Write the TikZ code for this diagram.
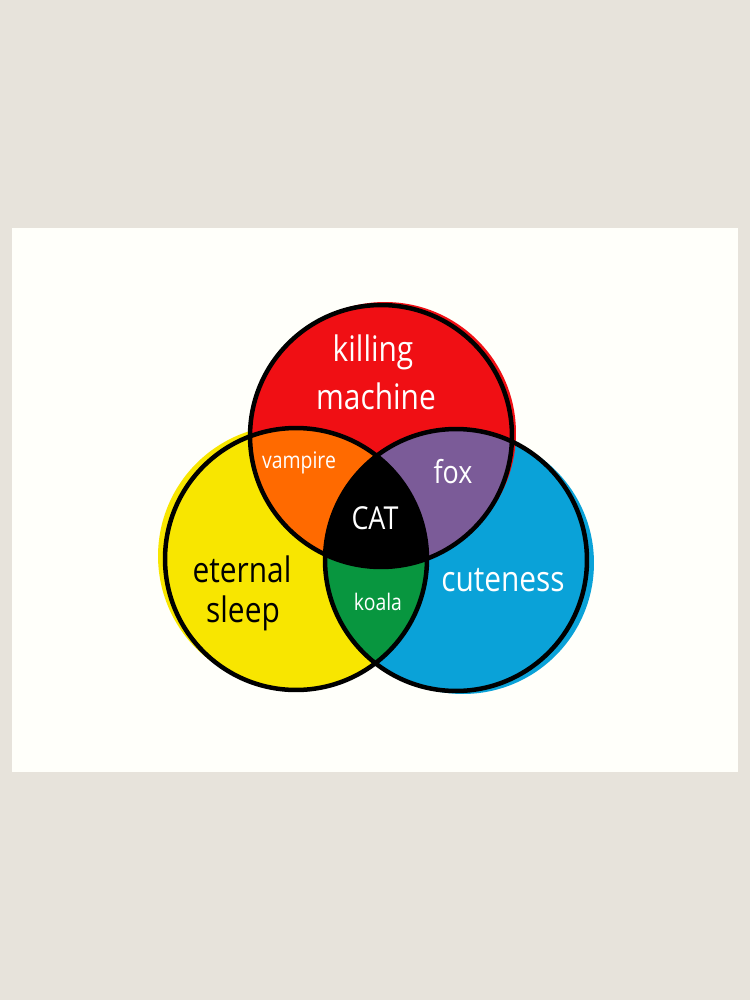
\documentclass[tikz,border=0pt]{standalone}
\usepackage{fontspec}
\setmainfont{Open Sans}[FakeStretch=0.85]
\definecolor{wall}{HTML}{E7E3DB}
\definecolor{paper}{HTML}{FFFFFA}
\definecolor{kred}{HTML}{F00F14}
\definecolor{korange}{HTML}{FF6A00}
\definecolor{kpurple}{HTML}{7B5B98}
\definecolor{kyellow}{HTML}{F8E600}
\definecolor{kblue}{HTML}{0AA2D8}
\definecolor{kgreen}{HTML}{08963F}

\begin{document}
\begin{tikzpicture}[x=0.02cm, y=-0.02cm,
    outline/.style = {draw=black, line width=0.09cm},
    big/.style = {text=white, inner sep=0pt, font=\fontsize{20}{20}\selectfont},
    mid/.style = {text=white, inner sep=0pt, font=\fontsize{18}{18}\selectfont},
    small/.style = {text=white, inner sep=0pt, font=\fontsize{13}{13}\selectfont}]
    \useasboundingbox (0,0) rectangle (750,1000);
    \fill[wall] (0,0) rectangle (750,1000);
    \fill[paper] (12,228) rectangle (738,772);
    \coordinate (red) at (381,436);
    \coordinate (yel) at (296,559);
    \coordinate (blu) at (456,560);
    \fill[kyellow] ([shift={(-7,-3)}]yel) circle[radius=2.62cm];
    \fill[kyellow] (yel) circle[radius=2.62cm];
    \fill[kblue] ([shift={(7,3)}]blu) circle[radius=2.62cm];
    \fill[kblue] (blu) circle[radius=2.62cm];
    \fill[kred] ([shift={(4,-3)}]red) circle[radius=2.62cm];
    \fill[kred] (red) circle[radius=2.62cm];
    \begin{scope}
        \clip (yel) circle[radius=2.62cm];
        \fill[kgreen] (blu) circle[radius=2.62cm];
    \end{scope}
    \begin{scope}
        \clip (red) circle[radius=2.62cm];
        \fill[korange] (yel) circle[radius=2.62cm];
        \fill[kpurple] (blu) circle[radius=2.62cm];
        \clip (yel) circle[radius=2.62cm];
        \fill[black] (blu) circle[radius=2.62cm];
    \end{scope}
    \draw[outline] (yel) circle[radius=2.62cm];
    \draw[outline] (blu) circle[radius=2.62cm];
    \draw[outline] (red) circle[radius=2.62cm];
    \node[big] (kill) at (373,352) {killing};
    \node[big] (mach) at (376,396) {machine};
    \node[small] (vamp) at (299,463) {vampire};
    \node[mid] (fox) at (453,472) {fox};
    \node[mid] (cat) at (375,518) {CAT};
    \node[big, text=black] (eter) at (242,569) {eternal};
    \node[big, text=black] (slp) at (243,613) {sleep};
    \node[big] (cute) at (503,580) {cuteness};
    \node[small] (koala) at (378,602) {koala};
\end{tikzpicture}
\end{document}
